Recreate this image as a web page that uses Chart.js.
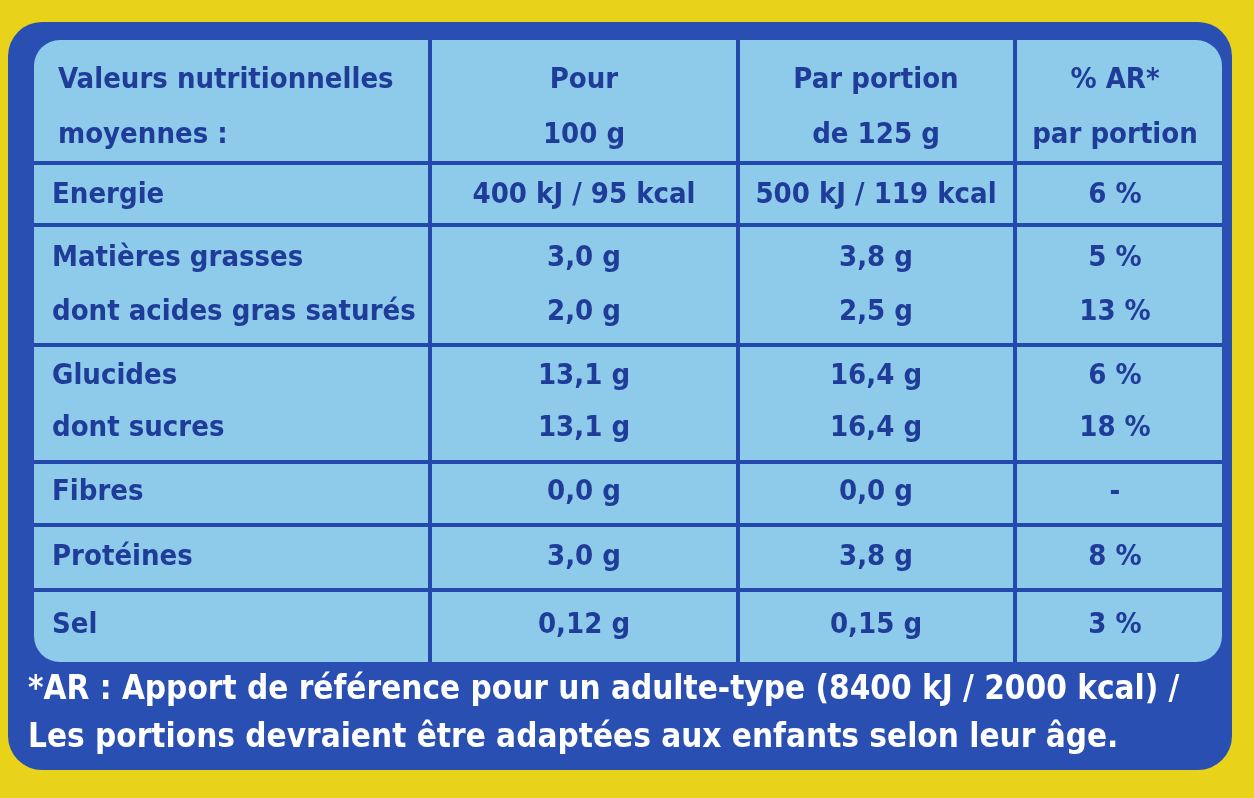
<!DOCTYPE html>
<html><head><meta charset="utf-8">
<script src="https://cdn.jsdelivr.net/npm/chart.js@4"></script>
<style>html,body{margin:0;padding:0;background:#e9d21a;}#c{display:block}</style>
</head><body>
<canvas id="c" width="1254" height="798"></canvas>
<script>
const headers = [
  ["Valeurs nutritionnelles", "moyennes :"],
  ["Pour", "100 g"],
  ["Par portion", "de 125 g"],
  ["% AR*", "par portion"],
];
const nutrients = ["Energie", "Matières grasses", "dont acides gras saturés", "Glucides", "dont sucres", "Fibres", "Protéines", "Sel"];
const per100 = ["400 kJ / 95 kcal", "3,0 g", "2,0 g", "13,1 g", "13,1 g", "0,0 g", "3,0 g", "0,12 g"];
const perPortion = ["500 kJ / 119 kcal", "3,8 g", "2,5 g", "16,4 g", "16,4 g", "0,0 g", "3,8 g", "0,15 g"];
const percentAR = ["6 %", "5 %", "13 %", "6 %", "18 %", "-", "8 %", "3 %"];
const rowCenters = [195, 258, 312, 376, 428, 492, 557, 625];
const rowLines = [163, 225, 345, 462, 525, 590];
const colLines = [430, 738, 1015];
const footnote = [
  "*AR : Apport de référence pour un adulte-type (8400 kJ / 2000 kcal) /",
  "Les portions devraient être adaptées aux enfants selon leur âge.",
];

const font = (s) => `bold ${s}px "Liberation Sans Narrow", "DejaVu Sans Condensed", sans-serif`;
const ink = "#1f3c99";

const tablePlugin = {
  id: "table",
  beforeDraw(chart) {
    const { ctx, scales: { x, y } } = chart;
    const X = (v) => x.getPixelForValue(v), Y = (v) => y.getPixelForValue(v);
    const rr = (x0, y0, x1, y1, r, fill) => {
      ctx.beginPath();
      ctx.roundRect(X(x0), Y(y0), X(x1) - X(x0), Y(y1) - Y(y0), r);
      ctx.fillStyle = fill; ctx.fill();
    };
    ctx.save();
    rr(8, 22, 1232, 770, 34, "#2a4fb3");
    rr(34, 40, 1222, 662, 26, "#8ecbea");
    ctx.strokeStyle = "#2449ad"; ctx.lineWidth = 4;
    colLines.forEach((c) => { ctx.beginPath(); ctx.moveTo(X(c), Y(40)); ctx.lineTo(X(c), Y(662)); ctx.stroke(); });
    rowLines.forEach((r) => { ctx.beginPath(); ctx.moveTo(X(34), Y(r)); ctx.lineTo(X(1222), Y(r)); ctx.stroke(); });
    ctx.textBaseline = "middle";
    ctx.fillStyle = ink; ctx.font = font(29);
    const colCenters = [0, 584, 876, 1115];
    headers.forEach((h, i) => {
      h.forEach((t, j) => {
        ctx.textAlign = i === 0 ? "left" : "center";
        ctx.fillText(t, i === 0 ? X(58) : X(colCenters[i]), Y(80 + j * 55));
      });
    });
    nutrients.forEach((n, i) => {
      const yy = Y(rowCenters[i]);
      ctx.textAlign = "left"; ctx.fillText(n, X(52), yy);
      ctx.textAlign = "center";
      ctx.fillText(per100[i], X(colCenters[1]), yy);
      ctx.fillText(perPortion[i], X(colCenters[2]), yy);
      ctx.fillText(percentAR[i], X(colCenters[3]), yy);
    });
    ctx.fillStyle = "#ffffff"; ctx.font = font(33); ctx.textAlign = "left";
    footnote.forEach((t, i) => ctx.fillText(t, X(28), Y(690 + i * 48)));
    ctx.restore();
  },
};

new Chart(document.getElementById("c"), {
  type: "scatter",
  data: { datasets: [{ data: [] }] },
  options: {
    responsive: false, animation: false,
    layout: { padding: 0 },
    plugins: { legend: { display: false }, tooltip: { enabled: false } },
    scales: {
      x: { type: "linear", min: 0, max: 1254, display: false },
      y: { type: "linear", min: 0, max: 798, reverse: true, display: false },
    },
  },
  plugins: [tablePlugin],
});
</script>
</body></html>
